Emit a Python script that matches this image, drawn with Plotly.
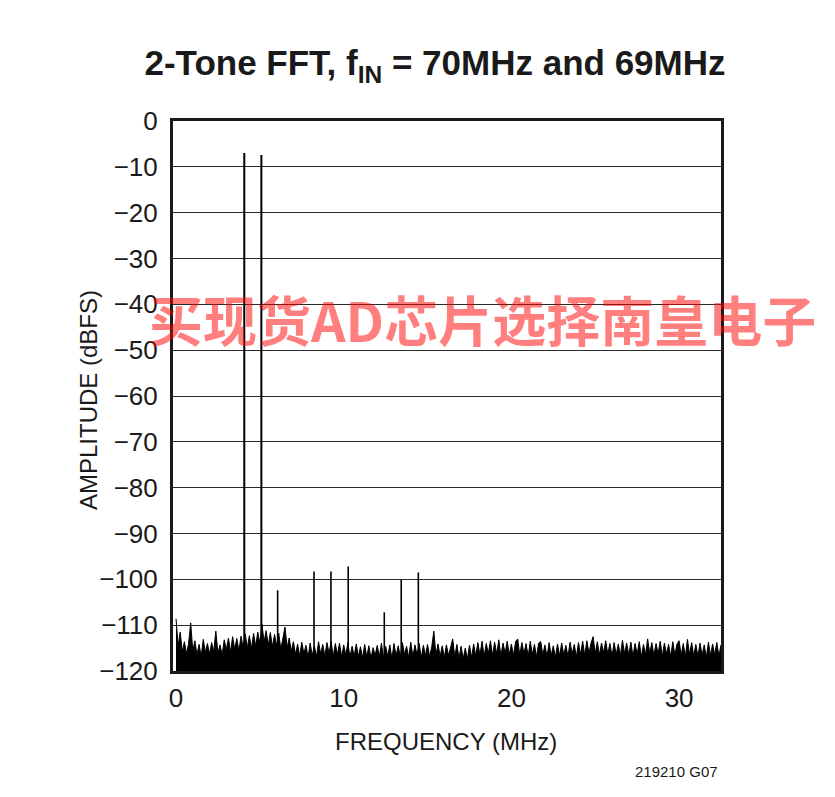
import numpy as np
import plotly.graph_objects as go

# ---- data ----
x_tick_vals = [0, 10, 20, 30]
y_tick_vals = [-120, -110, -100, -90, -80, -70, -60, -50, -40, -30, -20, -10, 0]
y_tick_text = ["\u2212120", "\u2212110", "\u2212100", "\u221290", "\u221280", "\u221270",
               "\u221260", "\u221250", "\u221240", "\u221230", "\u221220", "\u221210", "0"]

# tones (MHz, dBFS)
tone_freq = [4.07, 5.09]
tone_db = [-7.0, -7.4]

# harmonic / IMD spurs (MHz, dBFS)
spur_freq = [6.06, 8.23, 9.24, 10.27, 12.42, 13.43, 14.45]
spur_db = [-102.4, -98.3, -98.3, -97.2, -107.2, -100.1, -98.5]

# noise floor, bins every 0.125 MHz (dBFS)
noise_step = 0.125
noise_db = [
    -108.6, -114.5, -111.5, -115.8, -113.6, -116.2, -114.0, -109.5,
    -115.6, -113.4, -116.4, -114.2, -116.8, -113.1, -115.9, -114.0,
    -116.3, -113.8, -115.7, -111.3, -116.1, -114.3, -116.5, -113.2,
    -115.4, -112.8, -115.9, -112.5, -115.2, -112.9, -115.6, -112.4,
    -114.8, -111.9, -114.9, -112.3, -115.1, -111.8, -114.6, -111.5,
    -113.9, -109.8, -113.6, -111.2, -114.4, -111.6, -114.7, -112.0,
    -114.5, -111.7, -115.3, -112.4, -110.4, -114.9, -112.8, -115.7,
    -113.6, -116.4, -114.1, -116.8, -113.7, -116.2, -114.4, -117.0,
    -113.9, -116.6, -114.5, -116.9, -113.6, -116.3, -114.2, -116.7,
    -113.8, -116.1, -113.5, -116.8, -114.0, -116.4, -113.9, -116.9,
    -114.3, -116.5, -113.8, -117.0, -114.6, -116.7, -114.1, -116.8,
    -114.7, -117.1, -114.2, -116.9, -114.5, -117.2, -114.9, -116.6,
    -114.4, -116.9, -113.9, -117.1, -114.6, -116.8, -114.3, -117.3,
    -114.0, -116.7, -114.5, -116.9, -113.8, -116.4, -114.6, -117.0,
    -113.7, -116.8, -114.3, -116.5, -114.0, -117.1, -114.4, -116.6,
    -114.2, -116.9, -114.7, -111.3, -116.5, -114.1, -116.8, -114.5,
    -117.0, -114.3, -116.6, -114.8, -113.0, -116.9, -114.2, -117.2,
    -114.6, -117.3, -115.0, -117.4, -114.4, -117.0, -114.1, -116.7,
    -113.8, -116.5, -113.5, -116.8, -114.0, -116.2, -113.4, -116.6,
    -113.7, -116.3, -113.2, -116.7, -113.9, -116.1, -113.5, -116.4,
    -114.1, -116.6, -113.6, -113.0, -116.5, -113.8, -116.2, -114.0,
    -116.8, -113.5, -116.4, -114.2, -116.9, -113.9, -113.6, -116.5,
    -114.3, -116.9, -113.8, -116.6, -114.5, -117.0, -114.1, -116.7,
    -113.9, -116.5, -114.4, -116.8, -113.7, -116.3, -114.2, -116.9,
    -113.8, -116.4, -113.5, -116.6, -113.4, -116.1, -113.9, -112.5,
    -116.2, -113.6, -116.5, -113.9, -116.0, -113.4, -116.3, -114.0,
    -116.7, -113.8, -116.4, -114.1, -116.6, -113.3, -116.2, -113.9,
    -116.5, -113.7, -116.8, -114.0, -116.3, -113.6, -116.9, -114.2,
    -116.4, -113.0, -116.1, -113.8, -116.6, -114.0, -116.2, -113.5,
    -116.7, -113.9, -116.3, -114.2, -116.8, -113.6, -116.5, -114.1,
    -113.4, -116.6, -114.0, -116.9, -113.1, -116.4, -113.8, -116.7,
    -114.2, -116.8, -113.9, -116.5, -114.3, -117.0, -113.7, -116.6,
    -114.1, -116.4, -113.8, -116.7, -114.3,
]
noise_freq = [i * noise_step for i in range(len(noise_db))]

floor_db = -120

# ---- figure ----
fig = go.Figure()

fig.add_trace(go.Scatter(x=noise_freq, y=[floor_db] * len(noise_freq), mode="lines",
                         line=dict(width=0, color="black"), showlegend=False, hoverinfo="skip"))
fig.add_trace(go.Scatter(x=noise_freq, y=noise_db, mode="lines", fill="tonexty",
                         fillcolor="black", line=dict(color="black", width=1),
                         showlegend=False, hoverinfo="skip"))

def stems(freqs, dbs):
    xs, ys = [], []
    for f, d in zip(freqs, dbs):
        xs += [f, f, None]
        ys += [floor_db, d, None]
    return xs, ys

sx, sy = stems(spur_freq, spur_db)
fig.add_trace(go.Scatter(x=sx, y=sy, mode="lines", line=dict(color="black", width=1.6),
                         showlegend=False, hoverinfo="skip"))
tx, ty = stems(tone_freq, tone_db)
fig.add_trace(go.Scatter(x=tx, y=ty, mode="lines", line=dict(color="black", width=2),
                         showlegend=False, hoverinfo="skip"))

tick_font = dict(family="Liberation Sans, Arial, sans-serif", size=26, color="#1a1a1a")
title_font = dict(family="Liberation Sans, Arial, sans-serif", size=24, color="#1a1a1a")

# page is drawn with an 8px body offset; positions below are screenshot pixels
OFF = 8
def px_x(s):
    return (s - 173) / 548
def px_y(s):
    return (671 - s) / 550

fig.update_layout(
    width=835, height=797,
    margin=dict(l=173 - OFF, r=835 - (721 - OFF), t=121 - OFF, b=797 - (671 - OFF)),
    paper_bgcolor="white", plot_bgcolor="white",
    title=dict(text="2-Tone FFT, f<sub>IN</sub> = 70MHz and 69MHz",
               x=(435 - OFF) / 835, xanchor="center", y=1 - (63 - OFF) / 797, yanchor="middle",
               font=dict(family="Liberation Sans Narrow, Liberation Sans, Arial, sans-serif",
                         size=35, color="#1a1a1a", weight="bold")),
    xaxis=dict(range=[-0.18, 32.5], tickvals=x_tick_vals, ticktext=[str(v) for v in x_tick_vals],
               showgrid=False, zeroline=False, showline=True, mirror=True,
               linecolor="#1a1a1a", linewidth=3, ticks="", tickfont=tick_font,
               ticklabelstandoff=2),
    yaxis=dict(range=[-120, 0], tickvals=y_tick_vals, ticktext=y_tick_text,
               showgrid=True, gridcolor="#2a2a2a", gridwidth=1.4, zeroline=False,
               showline=True, mirror=True, linecolor="#1a1a1a", linewidth=3,
               ticks="", tickfont=tick_font, ticklabelstandoff=7),
    annotations=[
        dict(text="AMPLITUDE (dBFS)", xref="paper", yref="paper",
             x=px_x(88), y=px_y(400), xanchor="center", yanchor="middle", textangle=-90,
             showarrow=False, font=title_font),
        dict(text="FREQUENCY (MHz)", xref="paper", yref="paper",
             x=px_x(446), y=px_y(741), xanchor="center", yanchor="middle",
             showarrow=False, font=title_font),
        dict(text="买现货AD芯片选择南皇电子", xref="paper", yref="paper",
             x=px_x(482), y=px_y(318), xanchor="center", yanchor="middle",
             showarrow=False,
             font=dict(family="Noto Sans CJK SC", size=54, color="rgba(255,0,0,0.5)", weight="bold")),
        dict(text="219210 G07", xref="paper", yref="paper",
             x=px_x(720), y=px_y(771), xanchor="right", yanchor="middle",
             showarrow=False,
             font=dict(family="Liberation Sans Narrow, Liberation Sans, Arial, sans-serif",
                       size=15, color="#1a1a1a")),
    ],
)

fig.write_html("out.html")
